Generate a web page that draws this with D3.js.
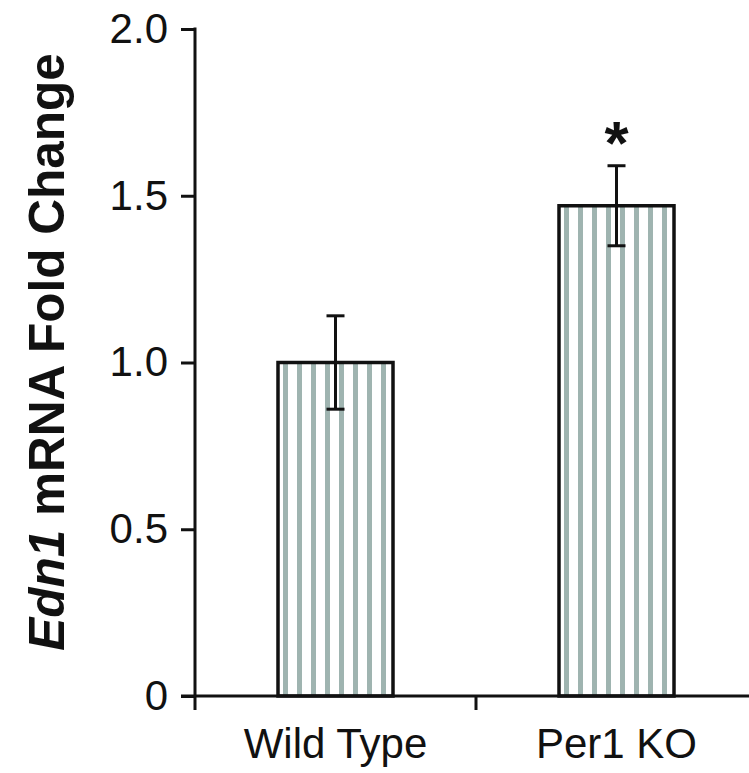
<!DOCTYPE html>
<html>
<head>
<meta charset="utf-8">
<script src="https://cdn.jsdelivr.net/npm/d3@7"></script>
<style>
  body { margin: 0; background: #fff; }
  text { font-family: "Liberation Sans", Arial, sans-serif; }
</style>
</head>
<body>
<div id="chart"></div>
<script>
// chart data
var groups = ['Wild Type', 'Per1 KO'];
var foldChange = [1.0, 1.47];
var errors = [0.14, 0.12];
var significant = [false, true];
var yTicks = [0, 0.5, 1.0, 1.5, 2.0];

const width = 749;
const height = 773;

var svg = d3.select('#chart')
  .append('svg')
  .attr('width', width)
  .attr('height', height);

var x = d3.scalePoint()
  .domain(groups)
  .range([195, 757])
  .padding(0.5);

var y = d3.scaleLinear()
  .domain([0, 2])
  .range([696, 29]);

var barW = 115;
var ink = '#111';
var lw = 3;

// stripe patterns, one for each bar so the stripes start at the bar edge
var defs = svg.append('defs');
groups.forEach(function(g, i) {
  var p = defs.append('pattern')
    .attr('id', 'stripes' + i)
    .attr('patternUnits', 'userSpaceOnUse')
    .attr('x', x(g) - barW / 2)
    .attr('y', 0)
    .attr('width', 14)
    .attr('height', 20);
  p.append('rect')
    .attr('width', 14).attr('height', 20)
    .attr('fill', '#fff');
  p.append('rect')
    .attr('x', 5).attr('width', 5).attr('height', 20)
    .attr('fill', '#9fb4b0');
});

// bars
svg.selectAll('.bar')
  .data(groups)
  .enter()
  .append('rect')
  .attr('class', 'bar')
  .attr('x', function(d) { return x(d) - barW / 2; })
  .attr('y', function(d, i) { return y(foldChange[i]); })
  .attr('width', barW)
  .attr('height', function(d, i) { return y(0) - y(foldChange[i]); })
  .attr('fill', function(d, i) { return 'url(#stripes' + i + ')'; })
  .attr('stroke', ink)
  .attr('stroke-width', 3.5);

// error bars
var eb = svg.selectAll('.err')
  .data(groups)
  .enter()
  .append('g')
  .attr('class', 'err')
  .attr('stroke', ink)
  .attr('stroke-width', lw);
eb.append('line')
  .attr('x1', function(d) { return x(d); })
  .attr('x2', function(d) { return x(d); })
  .attr('y1', function(d, i) { return y(foldChange[i] + errors[i]); })
  .attr('y2', function(d, i) { return y(foldChange[i] - errors[i]); });
eb.append('line')
  .attr('x1', function(d) { return x(d) - 9; })
  .attr('x2', function(d) { return x(d) + 9; })
  .attr('y1', function(d, i) { return y(foldChange[i] + errors[i]); })
  .attr('y2', function(d, i) { return y(foldChange[i] + errors[i]); });
eb.append('line')
  .attr('x1', function(d) { return x(d) - 9; })
  .attr('x2', function(d) { return x(d) + 9; })
  .attr('y1', function(d, i) { return y(foldChange[i] - errors[i]); })
  .attr('y2', function(d, i) { return y(foldChange[i] - errors[i]); });

// significance star
svg.selectAll('.star')
  .data(groups.filter(function(d, i) { return significant[i]; }))
  .enter()
  .append('text')
  .attr('class', 'star')
  .attr('x', function(d) { return x(d); })
  .attr('y', function(d) {
    var i = groups.indexOf(d);
    return y(foldChange[i] + errors[i]) - 2;
  })
  .style('font-size', '62px')
  .style('font-weight', 'bold')
  .style('text-anchor', 'middle')
  .style('fill', ink)
  .text('*');

// y axis
var yAxis = svg.append('g')
  .attr('transform', 'translate(195,0)')
  .call(d3.axisLeft(y)
    .tickValues(yTicks)
    .tickSize(14)
    .tickSizeOuter(0)
    .tickPadding(13)
    .tickFormat(function(d) { return d === 0 ? '0' : d.toFixed(1); }));
yAxis.select('.domain').remove();
yAxis.selectAll('line').attr('stroke', ink).attr('stroke-width', lw);
yAxis.selectAll('text')
  .style('font-size', '42px')
  .style('font-family', '"Liberation Sans", Arial, sans-serif')
  .attr('fill', ink);

svg.append('line')
  .attr('x1', 195).attr('x2', 195)
  .attr('y1', y(2) - 1.5).attr('y2', y(0) + 14)
  .attr('stroke', ink).attr('stroke-width', lw);
svg.append('line')
  .attr('x1', 181).attr('x2', width)
  .attr('y1', y(0)).attr('y2', y(0))
  .attr('stroke', ink).attr('stroke-width', lw);

// x ticks between groups
var step = x.step();
svg.selectAll('.xtick')
  .data(groups.slice(1))
  .enter()
  .append('line')
  .attr('class', 'xtick')
  .attr('x1', function(d) { return x(d) - step / 2; })
  .attr('x2', function(d) { return x(d) - step / 2; })
  .attr('y1', y(0)).attr('y2', y(0) + 14)
  .attr('stroke', ink).attr('stroke-width', lw);

// x labels
svg.selectAll('.xlabel')
  .data(groups)
  .enter()
  .append('text')
  .attr('class', 'xlabel')
  .attr('x', function(d) { return x(d); })
  .attr('y', 758)
  .style('font-size', '42px')
  .style('text-anchor', 'middle')
  .style('fill', ink)
  .text(function(d) { return d; });

// y title
var title = svg.append('text')
  .attr('transform', 'translate(64,352) rotate(-90)')
  .style('font-size', '49.5px')
  .style('font-weight', 'bold')
  .style('text-anchor', 'middle')
  .style('fill', ink);
title.append('tspan').style('font-style', 'italic').text('Edn1');
title.append('tspan').text(' mRNA Fold Change');
</script>
</body>
</html>
